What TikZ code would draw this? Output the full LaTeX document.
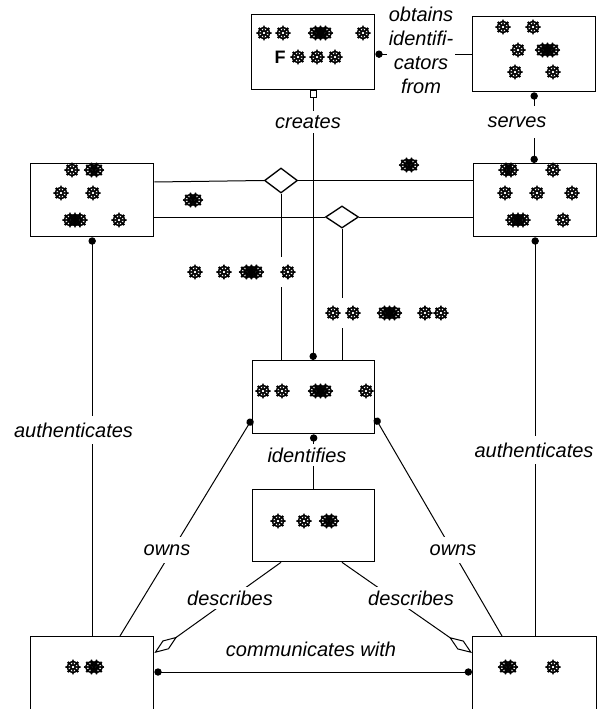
\documentclass[tikz,border=0pt]{standalone}
\usepackage{fontspec}
\setmainfont{Liberation Sans}
\newfontface\symfont[FakeBold=2]{DejaVu Sans}
\usetikzlibrary{arrows.meta,shapes.geometric,calc}
\newcommand\GG{\makebox[9.75pt]{\symfont\fontsize{14.5}{14.5}\selectfont ☸}}
\newcommand\cl[1]{\ifcase#1\or\GG\or\rlap{\GG}\kern3.75pt\GG\or\rlap{\GG}\kern3.75pt\rlap{\GG}\kern3.75pt\GG\fi}
\begin{document}
\begin{tikzpicture}[x=0.75pt,y=-0.75pt,
  box/.style={draw,line width=1pt,inner sep=0pt,anchor=north west,minimum width=92.25pt,minimum height=54.75pt},
  dia/.style={draw,diamond,line width=1pt,inner sep=0pt,minimum width=24.75pt,fill=white},
  con/.style={line width=0.75pt},
  tipe/.style={-{Circle[length=5.5pt]}},
  tips/.style={{Circle[length=5.5pt]}-},
  tipb/.style={{Circle[length=5.5pt]}-{Circle[length=5.5pt]}},
  opendia/.style={-{Diamond[open,length=21pt,width=8pt]}},
  lbl/.style={font=\itshape\fontsize{15}{18}\selectfont,fill=white,inner xsep=1pt,inner ysep=3pt},
  gl/.style={inner sep=0pt},
  glab/.style={fill=white,inner xsep=1pt,inner ysep=6pt}]
\useasboundingbox (0,0) rectangle (597,709);
\clip (0,0) rectangle (597,709);
% boxes
\node[box,minimum height=56.25pt] (F) at (251,14) {};
\node[box,minimum height=56.25pt] (TR) at (472,16) {};
\node[box] (LM) at (30,163) {};
\node[box] (RM) at (473,163) {};
\node[box,minimum width=91.5pt] (C) at (252,360) {};
\node[box,minimum width=91.5pt,minimum height=54pt] (BM) at (252,489) {};
\node[box,minimum height=60pt] (BL) at (30,636) {};
\node[box,minimum width=93pt,minimum height=60pt] (BR) at (472,636) {};
% diamonds
\node[dia,minimum height=18.75pt] (d1) at (281,180.5) {};
\node[dia,minimum height=16.5pt] (d2) at (342,217) {};
% connectors
\draw[con,tipe] (TR.west) -- (TR.west -| F.east);
\draw[con,tipb] (TR.south) -- (TR.south |- RM.north);
\draw[con,{Square[open,length=5.5pt]}-{Circle[length=5.5pt]}] (F.south) -- (F.south |- C.north);
\draw[con] ($(LM.north east)+(0,19)$) -- (d1.west);
\draw[con] (d1.east) -- (d1.east -| RM.west);
\draw[con] (d1.south) -- (d1.south |- C.north);
\draw[con] (d2.west -| LM.east) -- (d2.west);
\draw[con] (d2.east) -- (d2.east -| RM.west);
\draw[con] (d2.south) -- (d2.south |- C.north);
\draw[con,tips] (LM.south) -- (LM.south |- BL.north);
\draw[con,tips] (RM.south) -- (RM.south |- BR.north);
\draw[con,tips] (C.south) -- (C.south |- BM.north);
\draw[con,tips] ($(C.north west)+(0,59)$) -- ($(BL.north west)+(90,0)$);
\draw[con,tips] ($(C.north east)+(0,58)$) -- ($(BR.north west)+(30,0)$);
\draw[con,opendia] ($(BM.south west)+(29,0)$) -- ($(BL.north east)+(0,17)$);
\draw[con,opendia] ($(BM.south west)+(90,0)$) -- ($(BR.north west)+(0,17)$);
\draw[con,tipb] ($(BL.north east)+(0,36)$) -- ($(BR.north west)+(0,36)$);
% labels
\node[lbl,align=center] (lobt) at (421,50) {obtains\\identifi-\\cators\\from};
\node[lbl] (lcre) at (308,122) {creates};
\node[lbl,inner ysep=8pt] (lser) at (517,122) {serves};
\node[lbl,inner ysep=5pt] (lau1) at (73.5,430) {authenticates};
\node[lbl,inner ysep=5pt] (lau2) at (534,450) {authenticates};
\node[lbl] (lide) at (307,455) {identifies};
\node[lbl,inner ysep=6pt] (low1) at (167,550) {owns};
\node[lbl,inner ysep=6pt] (low2) at (453,550) {owns};
\node[lbl] (lde1) at (230,598) {describes};
\node[lbl] (lde2) at (411,598) {describes};
\node[lbl] (lcom) at (311,649) {communicates with};
\node[glab] (la1) at (241.5,272) {\GG\hspace{12pt}\GG\hspace{7.1pt}\cl{3}\hspace{13.9pt}\GG};
\node[glab] (la2) at (387,313) {\GG\hspace{5.25pt}\GG\hspace{13.9pt}\cl{3}\hspace{13.1pt}\GG\hspace{2.25pt}\GG};
% box contents
\node[inner sep=0pt,font=\bfseries\fontsize{13.5}{13.5}\selectfont] (Fl) at (280,57) {F};
\foreach \x/\y/\n [count=\i] in {264/33/1, 283/33/1, 320.5/33/3, 363/33/1, 298/57/1, 317/57/1, 335/57/1,
  503/27/1, 533/27/1, 518/50/1, 547.5/50/3, 515/72/1, 553/72/1,
  72/170/1, 94/170/2, 61/193/1, 93/193/1, 75/220/3, 119/220/1,
  508.5/170/2, 553/170/1, 505/193/1, 537/193/1, 572/193/1, 518/220/3, 563/220/1,
  263/391/1, 282/391/1, 320.5/391/3, 366/391/1,
  278/521/1, 304/521/1, 329/521/2,
  73/667/1, 94/667/2, 508/667/2, 553/667/1,
  193/200/2, 409/165/2}
  \node[gl] (g\i) at (\x,\y) {\cl{\n}};
\end{tikzpicture}
\end{document}
